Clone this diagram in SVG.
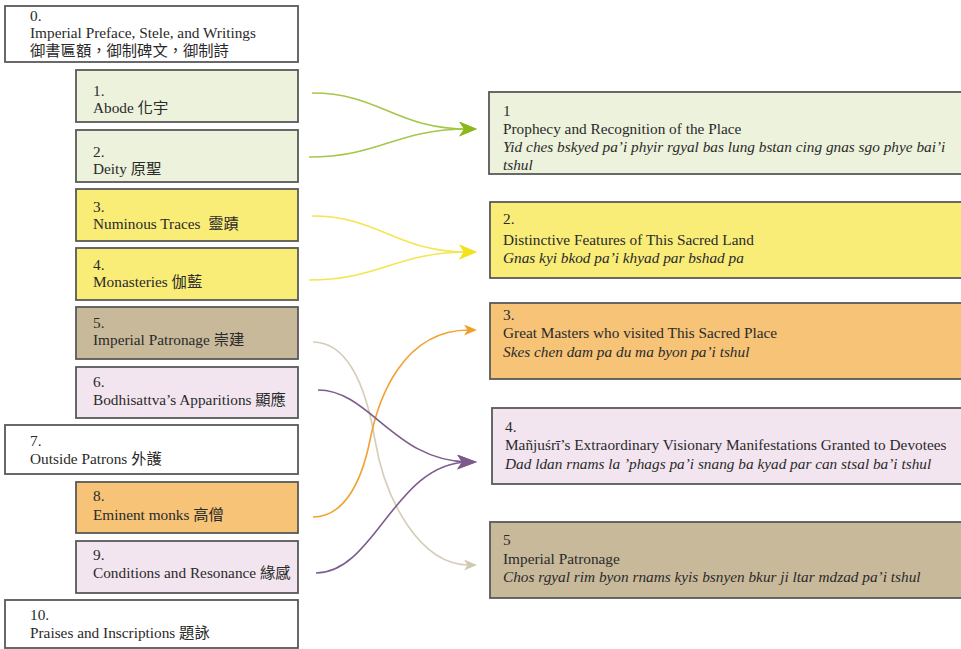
<svg xmlns="http://www.w3.org/2000/svg" width="961" height="649" viewBox="0 0 961 649">
<style>
.box{stroke:#595959;stroke-width:1.8}
.w{fill:#ffffff}
.g{fill:#edf2dc}
.y{fill:#f9ed78}
.t{fill:#c9b99b}
.p{fill:#f2e5f0}
.o{fill:#f6c377}
text{font-family:"Liberation Serif","Noto Sans CJK TC",serif;font-size:15.3px;fill:#2a2a2a}
.it{font-style:italic}
.c{fill:none;stroke-width:1.6}
</style>
<defs>
<marker id="mg" markerUnits="userSpaceOnUse" viewBox="0 0 18 15" markerWidth="18" markerHeight="15" refX="10" refY="7.5" orient="auto"><path d="M0,0 L18,7.5 L0,15 L5,7.5 Z" fill="#8db81a"/></marker>
<marker id="my" markerUnits="userSpaceOnUse" viewBox="0 0 18 15" markerWidth="18" markerHeight="15" refX="10" refY="7.5" orient="auto"><path d="M0,0 L18,7.5 L0,15 L5,7.5 Z" fill="#f3e21e"/></marker>
<marker id="mp" markerUnits="userSpaceOnUse" viewBox="0 0 20 15" markerWidth="20" markerHeight="15" refX="12" refY="7.5" orient="auto"><path d="M0,0 L20,7.5 L0,15 L5,7.5 Z" fill="#7b5a8e"/></marker>
<marker id="mo" markerUnits="userSpaceOnUse" viewBox="0 0 13 11" markerWidth="13" markerHeight="11" refX="5" refY="5.5" orient="auto"><path d="M0,0 L13,5.5 L0,11 L3.5,5.5 Z" fill="#f0a02a"/></marker>
<marker id="mt" markerUnits="userSpaceOnUse" viewBox="0 0 13 11" markerWidth="13" markerHeight="11" refX="5" refY="5.5" orient="auto"><path d="M0,0 L13,5.5 L0,11 L3.5,5.5 Z" fill="#d2c8b0"/></marker>
</defs>

<g id="n0"><rect class="box w" x="5" y="6" width="293" height="56"/><text x="30" y="21">0.</text><text x="30" y="38">Imperial Preface, Stele, and Writings</text><text x="30" y="56">御書匾額，御制碑文，御制詩</text></g>
<g id="n1"><rect class="box g" x="76" y="70" width="222" height="52"/><text x="93" y="96">1.</text><text x="93" y="113">Abode 化宇</text></g>
<g id="n2"><rect class="box g" x="76" y="130" width="222" height="52"/><text x="93" y="157">2.</text><text x="93" y="174">Deity 原聖</text></g>
<g id="n3"><rect class="box y" x="76" y="189" width="222" height="52"/><text x="93" y="212">3.</text><text x="93" y="229">Numinous Traces&#160; 靈蹟</text></g>
<g id="n4"><rect class="box y" x="76" y="248" width="222" height="52"/><text x="93" y="270">4.</text><text x="93" y="287">Monasteries 伽藍</text></g>
<g id="n5"><rect class="box t" x="76" y="307" width="222" height="52"/><text x="93" y="328">5.</text><text x="93" y="345">Imperial Patronage 崇建</text></g>
<g id="n6"><rect class="box p" x="76" y="367" width="222" height="51"/><text x="93" y="387">6.</text><text x="93" y="405">Bodhisattva’s Apparitions 顯應</text></g>
<g id="n7"><rect class="box w" x="5" y="425" width="293" height="49"/><text x="30" y="446">7.</text><text x="30" y="464">Outside Patrons 外護</text></g>
<g id="n8"><rect class="box o" x="76" y="482" width="222" height="51"/><text x="93" y="501">8.</text><text x="93" y="520">Eminent monks 高僧</text></g>
<g id="n9"><rect class="box p" x="76" y="541" width="222" height="52"/><text x="93" y="560">9.</text><text x="93" y="578">Conditions and Resonance 緣感</text></g>
<g id="n10"><rect class="box w" x="5" y="600" width="293" height="48"/><text x="30" y="620">10.</text><text x="30" y="638">Praises and Inscriptions 題詠</text></g>

<g id="r1"><rect class="box g" x="489" y="92" width="480" height="82"/><text x="503" y="116">1</text><text x="503" y="134">Prophecy and Recognition of the Place</text><text class="it" x="503" y="152">Yid ches bskyed pa’i phyir rgyal bas lung bstan cing gnas sgo phye bai’i</text><text class="it" x="503" y="170">tshul</text></g>
<g id="r2"><rect class="box y" x="490" y="202" width="480" height="76"/><text x="503" y="224">2.</text><text x="503" y="245">Distinctive Features of This Sacred Land</text><text class="it" x="503" y="263">Gnas kyi bkod pa’i khyad par bshad pa</text></g>
<g id="r3"><rect class="box o" x="490" y="303" width="480" height="76"/><text x="503" y="320">3.</text><text x="503" y="338">Great Masters who visited This Sacred Place</text><text class="it" x="503" y="357">Skes chen dam pa du ma byon pa’i tshul</text></g>
<g id="r4"><rect class="box p" x="492" y="408" width="480" height="76"/><text x="505" y="432">4.</text><text x="505" y="450">Mañjuśrī’s Extraordinary Visionary Manifestations Granted to Devotees</text><text class="it" x="505" y="469">Dad ldan rnams la ’phags pa’i snang ba kyad par can stsal ba’i tshul</text></g>
<g id="r5"><rect class="box t" x="490" y="522" width="480" height="76"/><text x="503" y="545">5</text><text x="503" y="564">Imperial Patronage</text><text class="it" x="503" y="582">Chos rgyal rim byon rnams kyis bsnyen bkur ji ltar mdzad pa’i tshul</text></g>

<g id="connectors">
<path class="c" stroke="#a5c74a" d="M312,93 C380,93 395,129 469,129" marker-end="url(#mg)"/>
<path class="c" stroke="#a5c74a" d="M309,157 C380,157 395,129 469,129" marker-end="url(#mg)"/>
<path class="c" stroke="#f3e650" d="M312,216 C380,216 395,252 469,252" marker-end="url(#my)"/>
<path class="c" stroke="#f3e650" d="M309,280 C380,280 395,252 469,252" marker-end="url(#my)"/>
<path class="c" stroke="#d6cdb8" d="M313,342 C345,342 365,380 375,440 S420,565 469,565" marker-end="url(#mt)"/>
<path class="c" stroke="#f0a232" d="M313,517 C345,517 362,480 370,440 S402,330 469,330" marker-end="url(#mo)"/>
<path class="c" stroke="#7d5c90" d="M318,390 C370,390 395,462 469,462" marker-end="url(#mp)"/>
<path class="c" stroke="#7d5c90" d="M316,573 C375,573 395,462 469,462" marker-end="url(#mp)"/>
</g>
</svg>
